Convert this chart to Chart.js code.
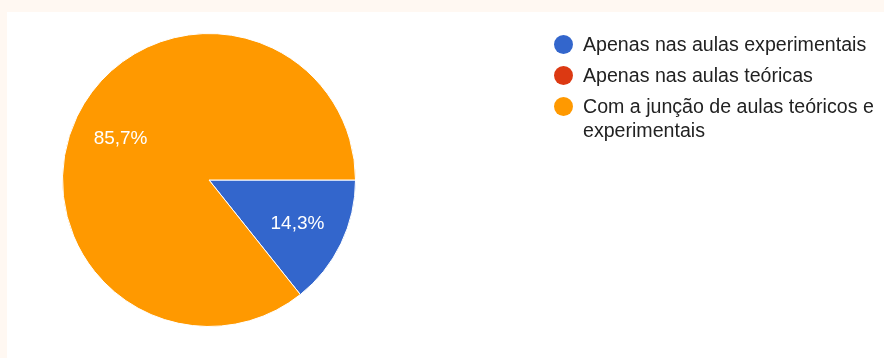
<!DOCTYPE html>
<html>
<head>
<meta charset="utf-8">
<script src="https://cdn.jsdelivr.net/npm/chart.js@4/dist/chart.umd.min.js"></script>
<style>
  html, body { margin: 0; padding: 0; }
  body { width: 884px; height: 358px; background: #fff8f2; position: relative; overflow: hidden; font-family: "Liberation Sans", Arial, sans-serif; }
  #panel { position: absolute; left: 7px; top: 12px; right: 0; bottom: 0; background: #ffffff; }
  #wrap { position: absolute; left: 0; top: 0; width: 884px; height: 358px; }
  #legend { position: absolute; left: 554px; top: 32px; margin: 0; padding: 0; list-style: none; }
  #legend li { display: flex; align-items: flex-start; margin: 0 0 7px 0; }
  #legend .dot { width: 19px; height: 19px; border-radius: 50%; margin: 2.5px 10px 0 0; flex: none; }
  #legend .txt { font-size: 19.6px; line-height: 24px; color: #222222; width: 298px; }
</style>
</head>
<body>
<div id="panel"></div>
<div id="wrap"><canvas id="c" width="884" height="358"></canvas></div>
<ul id="legend"></ul>
<script>
// Answer categories and number of responses
const categories = [
  'Apenas nas aulas experimentais',
  'Apenas nas aulas teóricas',
  'Com a junção de aulas teóricos e experimentais'
];
const responses = [1, 0, 6];
const sliceColors = ['#3366cc', '#dc3912', '#ff9900'];

// Percentage text drawn inside each slice
const sliceLabels = {
  id: 'sliceLabels',
  afterDatasetsDraw(chart) {
    const ctx = chart.ctx;
    const ds = chart.data.datasets[0];
    const total = ds.data.reduce((a, b) => a + b, 0);
    const meta = chart.getDatasetMeta(0);
    ctx.save();
    ctx.fillStyle = '#ffffff';
    ctx.font = '19px "Liberation Sans", Arial, sans-serif';
    ctx.textAlign = 'center';
    ctx.textBaseline = 'middle';
    meta.data.forEach((arc, i) => {
      const v = ds.data[i];
      if (!v) return;
      const p = arc.getProps(['x', 'y', 'startAngle', 'endAngle', 'outerRadius'], true);
      const mid = (p.startAngle + p.endAngle) / 2;
      const r = p.outerRadius * 0.67;
      const txt = (v / total * 100).toFixed(1).replace('.', ',') + '%';
      ctx.fillText(txt, p.x + Math.cos(mid) * r, p.y + Math.sin(mid) * r + 1);
    });
    ctx.restore();
  }
};

const chart = new Chart(document.getElementById('c'), {
  type: 'pie',
  data: {
    labels: categories,
    datasets: [{
      data: responses,
      backgroundColor: sliceColors,
      borderColor: '#ffffff',
      borderWidth: 1
    }]
  },
  options: {
    responsive: false,
    animation: false,
    rotation: 90,
    layout: { padding: { left: 62, right: 528, top: 33, bottom: 31 } },
    plugins: {
      legend: { display: false },
      tooltip: { enabled: false }
    }
  },
  plugins: [sliceLabels]
});

// Legend built from the chart's own labels and colours
const legend = document.getElementById('legend');
chart.data.labels.forEach((label, i) => {
  const li = document.createElement('li');
  const dot = document.createElement('span');
  dot.className = 'dot';
  dot.style.background = chart.data.datasets[0].backgroundColor[i];
  const txt = document.createElement('span');
  txt.className = 'txt';
  txt.textContent = label;
  li.appendChild(dot);
  li.appendChild(txt);
  legend.appendChild(li);
});
</script>
</body>
</html>
